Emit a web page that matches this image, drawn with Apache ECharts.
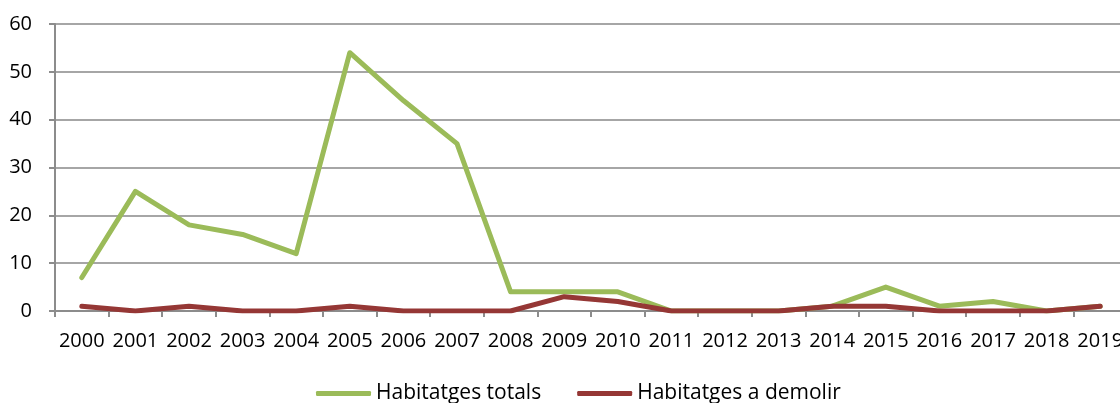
<!DOCTYPE html>
<html>
<head>
<meta charset="utf-8">
<script src="https://cdn.jsdelivr.net/npm/echarts@6/dist/echarts.min.js"></script>
<style>
html,body{margin:0;padding:0;background:#fff;overflow:hidden;}
#chart{width:1120px;height:403px;}
</style>
</head>
<body>
<div id="chart"></div>
<script>
// Years on the category axis
const years = ['2000','2001','2002','2003','2004','2005','2006','2007','2008','2009',
               '2010','2011','2012','2013','2014','2015','2016','2017','2018','2019'];
// Total dwellings per year
const habitatgesTotals = [7, 25, 18, 16, 12, 54, 44, 35, 4, 4, 4, 0, 0, 0, 1, 5, 1, 2, 0, 1];
// Dwellings to be demolished per year
const habitatgesDemolir = [1, 0, 1, 0, 0, 1, 0, 0, 0, 3, 2, 0, 0, 0, 1, 1, 0, 0, 0, 1];
const seriesNames = ['Habitatges totals', 'Habitatges a demolir'];

const font = 'Open Sans, Liberation Sans, sans-serif';
const chart = echarts.init(document.getElementById('chart'));
chart.setOption({
  animation: false,
  backgroundColor: '#fff',
  grid: { left: 55, top: 24, width: 1072, height: 287, containLabel: false, outerBoundsMode: 'none' },
  legend: {
    top: 383,
    left: 316,
    padding: 0,
    itemWidth: 55,
    itemHeight: 5,
    itemGap: 36,
    icon: 'roundRect',
    textStyle: { fontFamily: font, fontSize: 21, color: '#000' },
    data: seriesNames
  },
  xAxis: {
    type: 'category',
    data: years,
    boundaryGap: true,
    axisLine: { lineStyle: { color: '#8c8c8c', width: 2 } },
    axisTick: { show: true, length: 6, lineStyle: { color: '#8c8c8c', width: 2 } },
    axisLabel: { fontFamily: font, fontSize: 20, color: '#000', margin: 20, interval: 0, hideOverlap: false }
  },
  yAxis: {
    type: 'value',
    min: 0, max: 60, interval: 10,
    axisLine: { show: true, lineStyle: { color: '#8c8c8c', width: 2 } },
    axisTick: { show: true, length: 6, lineStyle: { color: '#8c8c8c', width: 2 } },
    axisLabel: { fontFamily: font, fontSize: 20, color: '#000', margin: 23 },
    splitLine: { lineStyle: { color: '#a6a6a6', width: 2 } }
  },
  series: [
    {
      name: seriesNames[0], type: 'line', data: habitatgesTotals,
      symbol: 'none', color: '#9BBB59',
      lineStyle: { width: 5, color: '#9BBB59', cap: 'round', join: 'round' }
    },
    {
      name: seriesNames[1], type: 'line', data: habitatgesDemolir,
      symbol: 'none', color: '#953735',
      lineStyle: { width: 5, color: '#953735', cap: 'round', join: 'round' }
    }
  ]
});
</script>
</body>
</html>
